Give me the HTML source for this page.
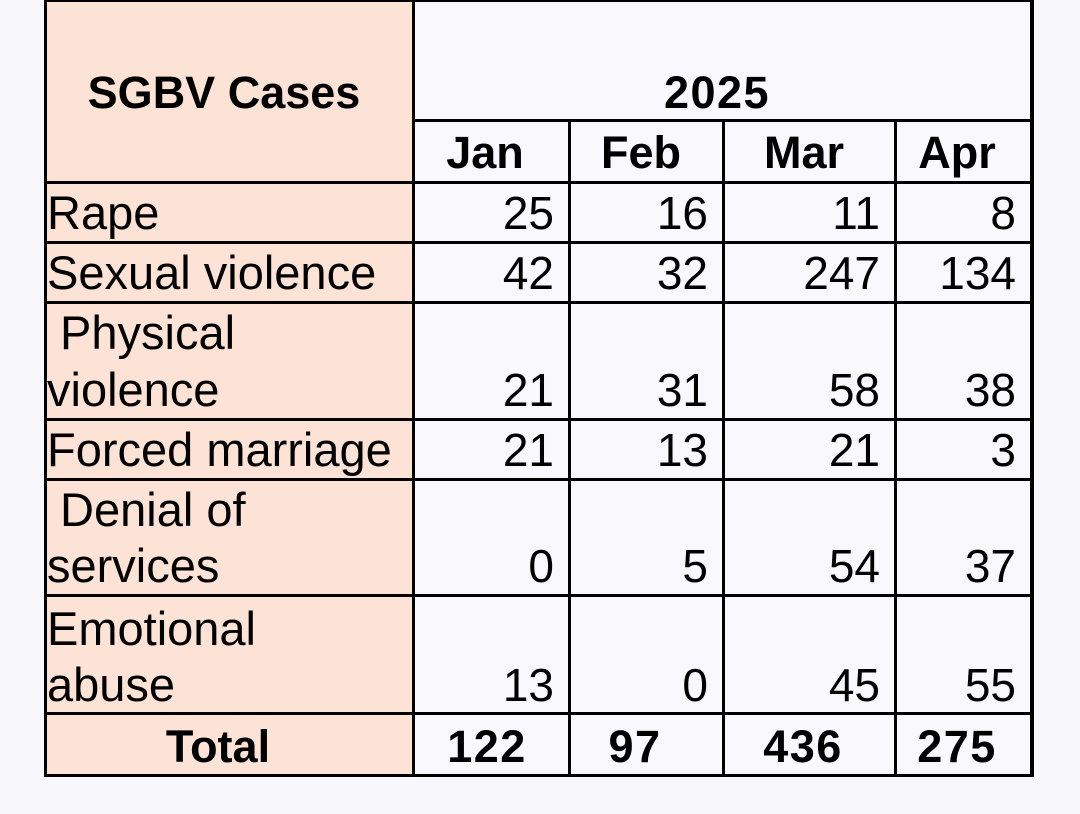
<!DOCTYPE html>
<html>
<head>
<meta charset="utf-8">
<style>
  html,body{margin:0;padding:0;}
  body{width:1080px;height:814px;background:#f8f8fc;position:relative;overflow:hidden;
       font-family:"Liberation Sans", Arial, sans-serif;color:#000;}
  .r{position:absolute;}
  .ln{position:absolute;background:#000;}
  .t{position:absolute;white-space:pre;line-height:1;}
  .lab{font-size:47px;left:47px;}
  .num{font-size:46px;text-align:right;width:140px;}
  .b{font-weight:bold;font-size:45px;text-align:center;width:300px;}
</style>
</head>
<body>
<!-- fills -->
<div class="r" style="left:47px;top:2px;width:365px;height:772px;background:#fde2d6;"></div>
<div class="r" style="left:415px;top:2px;width:615px;height:772px;background:#f8f8fd;"></div>

<!-- horizontal lines -->
<div class="ln" style="left:44px;top:0;width:990px;height:2px;"></div>
<div class="ln" style="left:412px;top:119px;width:622px;height:3px;"></div>
<div class="ln" style="left:44px;top:181px;width:990px;height:3px;"></div>
<div class="ln" style="left:44px;top:241px;width:990px;height:3px;"></div>
<div class="ln" style="left:44px;top:301px;width:990px;height:3px;"></div>
<div class="ln" style="left:44px;top:418px;width:990px;height:3px;"></div>
<div class="ln" style="left:44px;top:478px;width:990px;height:3px;"></div>
<div class="ln" style="left:44px;top:594px;width:990px;height:3px;"></div>
<div class="ln" style="left:44px;top:712px;width:990px;height:3px;"></div>
<div class="ln" style="left:44px;top:774px;width:990px;height:3px;"></div>

<!-- vertical lines -->
<div class="ln" style="left:44px;top:0;width:3px;height:777px;"></div>
<div class="ln" style="left:412px;top:0;width:3px;height:777px;"></div>
<div class="ln" style="left:568px;top:119px;width:3px;height:658px;"></div>
<div class="ln" style="left:722px;top:119px;width:3px;height:658px;"></div>
<div class="ln" style="left:894px;top:119px;width:3px;height:658px;"></div>
<div class="ln" style="left:1030px;top:0;width:4px;height:777px;"></div>

<!-- header -->
<div class="t b" style="left:74px;top:70px;">SGBV Cases</div>
<div class="t b" style="left:567px;top:70px;letter-spacing:1.5px;">2025</div>
<div class="t b" style="left:335px;top:130px;">Jan</div>
<div class="t b" style="left:491px;top:130px;">Feb</div>
<div class="t b" style="left:654px;top:130px;">Mar</div>
<div class="t b" style="left:807px;top:130px;">Apr</div>

<!-- labels (baseline = top + 39.8) -->
<div class="t lab" style="top:189px;">Rape</div>
<div class="t lab" style="top:249px;">Sexual violence</div>
<div class="t lab" style="top:309px;"> Physical</div>
<div class="t lab" style="top:366px;">violence</div>
<div class="t lab" style="top:426px;">Forced marriage</div>
<div class="t lab" style="top:486px;"> Denial of</div>
<div class="t lab" style="top:542px;">services</div>
<div class="t lab" style="top:605px;">Emotional</div>
<div class="t lab" style="top:661px;">abuse</div>

<!-- numbers (baseline = top + 38.9); right edges 554,708,880,1016 -->
<!-- Rape -->
<div class="t num" style="left:414px;top:190px;">25</div>
<div class="t num" style="left:568px;top:190px;">16</div>
<div class="t num" style="left:740px;top:190px;">11</div>
<div class="t num" style="left:876px;top:190px;">8</div>
<!-- Sexual -->
<div class="t num" style="left:414px;top:250px;">42</div>
<div class="t num" style="left:568px;top:250px;">32</div>
<div class="t num" style="left:740px;top:250px;">247</div>
<div class="t num" style="left:876px;top:250px;">134</div>
<!-- Physical -->
<div class="t num" style="left:414px;top:367px;">21</div>
<div class="t num" style="left:568px;top:367px;">31</div>
<div class="t num" style="left:740px;top:367px;">58</div>
<div class="t num" style="left:876px;top:367px;">38</div>
<!-- Forced -->
<div class="t num" style="left:414px;top:427px;">21</div>
<div class="t num" style="left:568px;top:427px;">13</div>
<div class="t num" style="left:740px;top:427px;">21</div>
<div class="t num" style="left:876px;top:427px;">3</div>
<!-- Denial -->
<div class="t num" style="left:414px;top:543px;">0</div>
<div class="t num" style="left:568px;top:543px;">5</div>
<div class="t num" style="left:740px;top:543px;">54</div>
<div class="t num" style="left:876px;top:543px;">37</div>
<!-- Emotional -->
<div class="t num" style="left:414px;top:662px;">13</div>
<div class="t num" style="left:568px;top:662px;">0</div>
<div class="t num" style="left:740px;top:662px;">45</div>
<div class="t num" style="left:876px;top:662px;">55</div>

<!-- totals (baseline ~761.7, top = 761.7-38.1) -->
<div class="t b" style="left:68px;top:724px;">Total</div>
<div class="t b" style="left:337px;top:724px;letter-spacing:1.5px;">122</div>
<div class="t b" style="left:485px;top:724px;letter-spacing:1.5px;">97</div>
<div class="t b" style="left:653px;top:724px;letter-spacing:1.5px;">436</div>
<div class="t b" style="left:807px;top:724px;letter-spacing:1.5px;">275</div>
</body>
</html>
